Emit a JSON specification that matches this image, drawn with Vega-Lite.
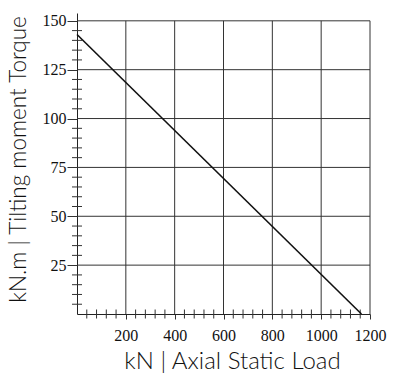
{
  "$schema": "https://vega.github.io/schema/vega-lite/v6.json",
  "width": 293,
  "height": 301,
  "autosize": {"type": "none"},
  "padding": {"left": 77, "top": 13, "right": 25, "bottom": 64},
  "background": "white",
  "config": {"view": {"stroke": null}},
  "datasets": {
    "line": [{"load": 0, "torque": 143}, {"load": 1165, "torque": 0}],
    "xgrid": [{"v": 200}, {"v": 400}, {"v": 600}, {"v": 800}, {"v": 1000}, {"v": 1200}],
    "ygrid": [{"v": 25}, {"v": 50}, {"v": 75}, {"v": 100}, {"v": 125}, {"v": 150}],
    "xminor": [{"v": 40}, {"v": 80}, {"v": 120}, {"v": 160}, {"v": 240}, {"v": 280}, {"v": 320}, {"v": 360}, {"v": 440}, {"v": 480}, {"v": 520}, {"v": 560}, {"v": 640}, {"v": 680}, {"v": 720}, {"v": 760}, {"v": 840}, {"v": 880}, {"v": 920}, {"v": 960}, {"v": 1040}, {"v": 1080}, {"v": 1120}, {"v": 1160}],
    "yminor": [{"v": 5}, {"v": 10}, {"v": 15}, {"v": 20}, {"v": 30}, {"v": 35}, {"v": 40}, {"v": 45}, {"v": 55}, {"v": 60}, {"v": 65}, {"v": 70}, {"v": 80}, {"v": 85}, {"v": 90}, {"v": 95}, {"v": 105}, {"v": 110}, {"v": 115}, {"v": 120}, {"v": 130}, {"v": 135}, {"v": 140}, {"v": 145}]
  },
  "layer": [
    {
      "data": {"name": "xgrid"},
      "mark": {"type": "rule", "color": "#333", "strokeWidth": 1},
      "encoding": {
        "x": {"field": "v", "type": "quantitative", "scale": {"domain": [0, 1200], "nice": false, "zero": false},
          "axis": {"values": [200, 400, 600, 800, 1000, 1200], "format": "d", "grid": false, "tickSize": 5, "tickColor": "#333", "domainColor": "#222", "labelFont": "Liberation Serif", "labelFontSize": 16, "labelColor": "#111", "labelPadding": 8, "labelFlush": false,
            "title": "kN | Axial Static Load", "titleFont": "Lato", "titleFontSize": 24, "titleFontWeight": 300, "titleColor": "#111", "titlePadding": 6, "titleX": 155}},
        "y": {"datum": 0, "type": "quantitative", "scale": {"domain": [0, 154], "nice": false, "zero": false},
          "axis": {"values": [25, 50, 75, 100, 125, 150], "format": "d", "grid": false, "tickSize": 10, "tickColor": "#333", "domainColor": "#222", "labelFont": "Liberation Serif", "labelFontSize": 16, "labelColor": "#111", "labelPadding": 1,
            "title": "kN.m | Tilting moment Torque", "titleFont": "Lato", "titleFontSize": 22.5, "titleFontWeight": 300, "titleColor": "#111", "titlePadding": 12, "titleY": 146}},
        "y2": {"datum": 150}
      }
    },
    {
      "data": {"name": "ygrid"},
      "mark": {"type": "rule", "color": "#333", "strokeWidth": 1},
      "encoding": {
        "y": {"field": "v", "type": "quantitative"},
        "x": {"datum": 0, "type": "quantitative"},
        "x2": {"datum": 1200}
      }
    },
    {
      "data": {"name": "xminor"},
      "mark": {"type": "tick", "orient": "vertical", "size": 9, "thickness": 1, "color": "#333", "opacity": 1},
      "encoding": {
        "x": {"field": "v", "type": "quantitative"},
        "y": {"datum": 0, "type": "quantitative"}
      }
    },
    {
      "data": {"name": "yminor"},
      "mark": {"type": "tick", "orient": "horizontal", "size": 10, "thickness": 1, "color": "#333", "opacity": 1},
      "encoding": {
        "y": {"field": "v", "type": "quantitative"},
        "x": {"datum": 0, "type": "quantitative"}
      }
    },
    {
      "data": {"name": "line"},
      "mark": {"type": "line", "color": "#111", "strokeWidth": 1.6},
      "encoding": {
        "x": {"field": "load", "type": "quantitative"},
        "y": {"field": "torque", "type": "quantitative"}
      }
    }
  ]
}
